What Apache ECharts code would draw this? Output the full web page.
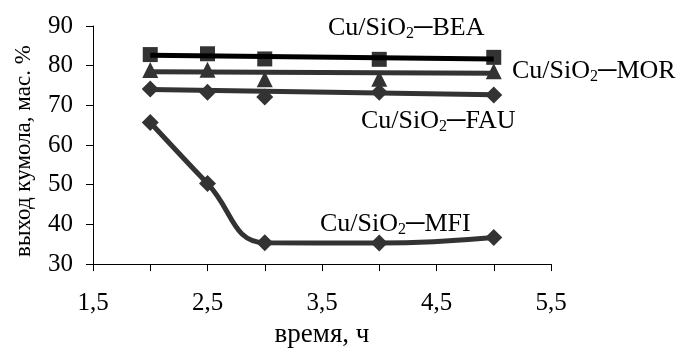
<!DOCTYPE html>
<html><head><meta charset="utf-8">
<script src="https://cdn.jsdelivr.net/npm/echarts@6/dist/echarts.min.js"></script>
<style>html,body{margin:0;padding:0;background:#fff}#c{width:683px;height:353px}</style>
</head><body><div id="c"></div>
<script>
const xValues = [2, 2.5, 3, 4, 5];
const beaMarkers = [82.8, 83.0, 81.7, 81.6, 82.1];
const morMarkers = [78.9, 79.0, 76.6, 76.7, 78.6];
const fauMarkers = [74.1, 73.3, 72.1, 73.3, 72.6];
const mfiValues = [65.7, 50.3, 35.4, 35.3, 36.7];
const trendX = [2, 5];
const beaTrend = [82.6, 81.7];
const morTrend = [78.5, 78.1];
const fauTrend = [74.0, 72.7];
const xTickLabels = ['1,5', '2,5', '3,5', '4,5', '5,5'];
const yTicks = [30, 40, 50, 60, 70, 80, 90];
const labels = ['BEA', 'MOR', 'FAU', 'MFI'];

const pts = (xs, ys) => xs.map((x, i) => [x, ys[i]]);
const font = 'Liberation Serif';
const chart = echarts.init(document.getElementById('c'));
const grey = '#333333';
const mkLabel = (name, x, y) => ({
  type: 'text', x: x, y: y, z: 10,
  style: {
    text: 'Cu/SiO{s|2}─' + name,
    fontFamily: font, fontSize: 26, fill: '#000',
    verticalAlign: 'middle', align: 'left',
    rich: { s: { fontFamily: font, fontSize: 16, verticalAlign: 'bottom', padding: [12, 0, 0, 0] } }
  }
});
chart.setOption({
  animation: false,
  grid: { left: 93, right: 132, top: 26, bottom: 85 },
  xAxis: {
    type: 'value', min: 1.5, max: 5.5, interval: 0.5,
    name: 'время, ч', nameLocation: 'middle', nameGap: 56,
    nameTextStyle: { fontFamily: font, fontSize: 27, color: '#000' },
    axisLine: { lineStyle: { color: '#000', width: 1 } },
    axisTick: { show: true, inside: false, length: 7, lineStyle: { color: '#000' } },
    axisLabel: {
      fontFamily: font, fontSize: 25, color: '#000', margin: 27,
      formatter: (v) => { const s = v.toFixed(1).replace('.', ','); return xTickLabels.includes(s) ? s : ''; }
    },
    splitLine: { show: false }
  },
  yAxis: {
    type: 'value', min: yTicks[0], max: yTicks[yTicks.length - 1], interval: 10,
    name: 'выход кумола, мас. %', nameLocation: 'middle', nameGap: 58,
    nameTextStyle: { fontFamily: font, fontSize: 23, color: '#000', padding: [0, 12, 0, 0] },
    axisLine: { show: true, lineStyle: { color: '#000', width: 1 } },
    axisTick: { show: true, length: 7, lineStyle: { color: '#000' } },
    axisLabel: { fontFamily: font, fontSize: 25, color: '#000', margin: 20 },
    splitLine: { show: false }
  },
  series: [
    { type: 'scatter', data: pts(xValues, beaMarkers), symbol: 'rect', symbolSize: 15, itemStyle: { color: grey, opacity: 1 }, z: 2 },
    { type: 'scatter', data: pts(xValues, morMarkers), symbol: 'triangle', symbolSize: 16, itemStyle: { color: grey, opacity: 1 }, z: 2 },
    { type: 'scatter', data: pts(xValues, fauMarkers), symbol: 'diamond', symbolSize: [17, 17], itemStyle: { color: grey, opacity: 1 }, z: 2 },
    { type: 'line', data: pts(trendX, beaTrend), showSymbol: false, lineStyle: { color: '#000', width: 5 }, z: 4 },
    { type: 'line', data: pts(trendX, morTrend), showSymbol: false, lineStyle: { color: grey, width: 5 }, z: 3 },
    { type: 'line', data: pts(trendX, fauTrend), showSymbol: false, lineStyle: { color: grey, width: 5 }, z: 3 },
    { type: 'line', data: pts(xValues, mfiValues), smooth: 0.45, symbol: 'diamond', symbolSize: [17, 17], showAllSymbol: true,
      itemStyle: { color: grey, opacity: 1 }, lineStyle: { color: grey, width: 5 }, z: 3 }
  ],
  graphic: [
    mkLabel(labels[0], 328, 28),
    mkLabel(labels[1], 512, 71),
    mkLabel(labels[2], 361, 121),
    mkLabel(labels[3], 320, 224)
  ]
});
</script></body></html>
